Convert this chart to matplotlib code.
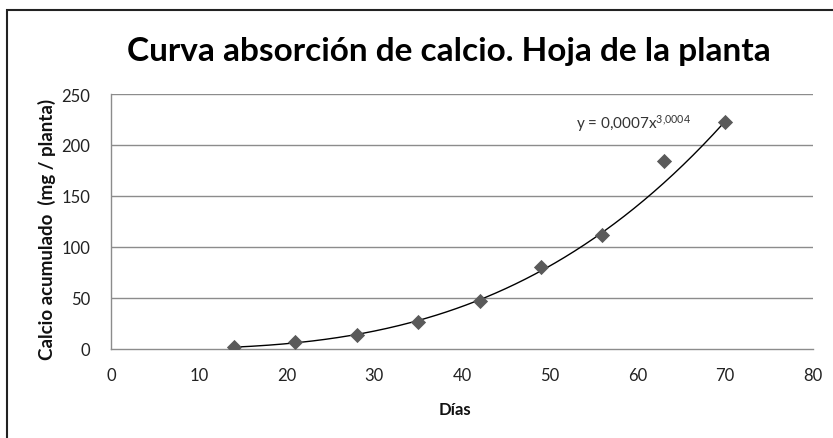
import matplotlib.pyplot as plt
from matplotlib.patches import Rectangle
import numpy as np

plt.rcParams['font.family'] = ['Lato', 'DejaVu Sans']
plt.rcParams['mathtext.default'] = 'regular'

dias = [14, 21, 28, 35, 42, 49, 56, 63, 70]
calcio = [2, 7, 13.5, 26, 47, 80, 112, 184, 223]

x_ticks = [0, 10, 20, 30, 40, 50, 60, 70, 80]
y_ticks = [0, 50, 100, 150, 200, 250]

# power trendline y = a * x^b (label shows a rounded to 0.0007)
trend_a = 0.00065
trend_b = 3.0004
xs = np.linspace(dias[0], dias[-1], 200)
ys = trend_a * xs ** trend_b

fig = plt.figure(figsize=(8.33, 4.39), dpi=100)
ax = fig.add_axes([111 / 833, 1 - 350 / 439, (813 - 111) / 833, (350 - 95) / 439])

# outer chart border
fig.patches.append(Rectangle((7 / 833, -0.1), 1.0, 1 - 11 / 439 + 0.1,
                             transform=fig.transFigure, fill=False,
                             edgecolor='#222222', linewidth=1.5))

for yt in y_ticks[1:]:
    ax.axhline(yt, color='#8c8c8c', linewidth=1.0, zorder=0)

ax.plot(xs, ys, color='black', linewidth=1.0, zorder=2)
ax.scatter(dias, calcio, marker='D', s=60, color='#5a5a5a', zorder=3, linewidths=0)

ax.set_xlim(0, 80)
ax.set_ylim(0, 250)
ax.set_xticks(x_ticks)
ax.set_yticks(y_ticks)
ax.tick_params(axis='both', length=0, labelsize=12, colors='#222222')
ax.tick_params(axis='x', pad=13)
ax.tick_params(axis='y', pad=15)

for side in ['top', 'right']:
    ax.spines[side].set_visible(False)
ax.spines['left'].set_color('#8c8c8c')
ax.spines['bottom'].set_color('#8c8c8c')
ax.spines['left'].set_linewidth(1.0)
ax.spines['bottom'].set_linewidth(1.0)

ax.text(53, 222, r'y = 0,0007x$^{3{,}0004}$', fontsize=11, color='#333333', va='center')

fig.text(449 / 833, 1 - 52 / 439, 'Curva absorción de calcio. Hoja de la planta',
         fontsize=24, fontweight='bold', ha='center', va='center', color='black')
fig.text(455 / 833, 1 - 410 / 439, 'Días', fontsize=12, fontweight='bold',
         ha='center', va='center', color='#111111')
fig.text(47 / 833, 1 - 229 / 439, 'Calcio acumulado  (mg / planta)', fontsize=13.5,
         fontweight='bold', rotation=90, ha='center', va='center', color='#111111')

fig.savefig('out.png', dpi=100)
